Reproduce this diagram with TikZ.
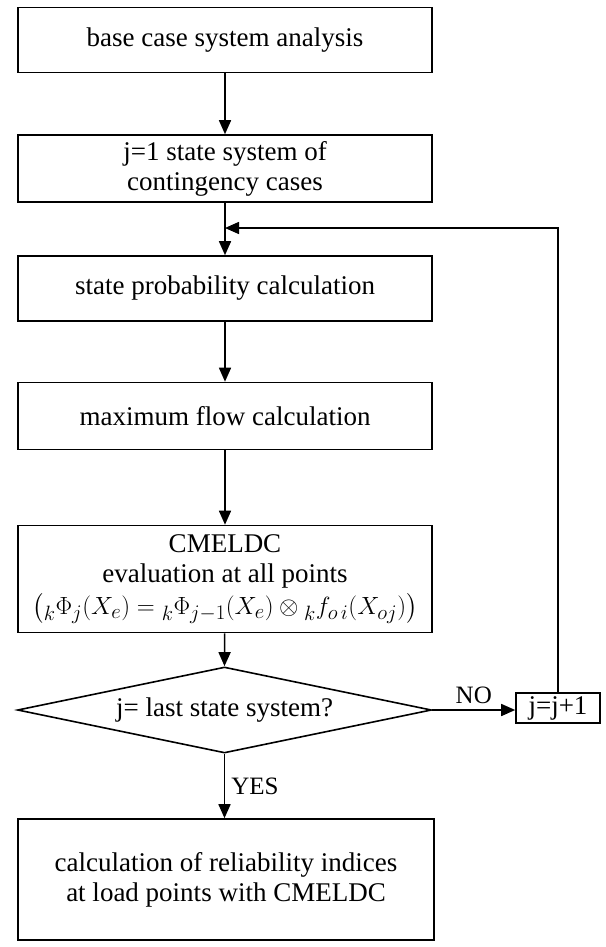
\documentclass[tikz,border=0pt]{standalone}
\usepackage{amsmath}
\usepackage{fontspec}
\setmainfont{Liberation Serif}
\usetikzlibrary{arrows.meta,shapes.geometric}
\begin{document}
\begin{tikzpicture}[x=1pt,y=-1pt,
  box/.style={draw, line width=1.6pt, rectangle, minimum width=414pt, align=center, inner sep=0pt,
              font=\fontsize{27}{30}\selectfont},
  arr/.style={line width=1.6pt, -{Triangle[length=14pt,width=12pt]}},
  lbl/.style={font=\fontsize{25}{28}\selectfont, inner sep=0pt}]
\useasboundingbox (0,0) rectangle (605,947);
\node[box, minimum height=65pt] (b1) at (225,40) {base case system analysis};
\node[box, minimum height=67pt] (b2) at (225,168.5) {j=1 state system of\\contingency cases};
\node[box, minimum height=65pt] (b3) at (225,288.5) {state probability calculation};
\node[box, minimum height=67pt] (b4) at (225,416) {maximum flow calculation};
\node[box, minimum height=107pt] (b5) at (225,579) {CMELDC\\evaluation at all points\\[2pt]
  {\fontsize{28}{30}\selectfont$\bigl({}_{k}\Phi_{j}(X_{e}) = {}_{k}\Phi_{j-1}(X_{e})\otimes{}_{k}f_{o\,i}(X_{oj})\bigr)$}};
\node[draw, line width=1.6pt, diamond, aspect=4.8, minimum width=414pt, minimum height=86pt, inner sep=0pt,
      font=\fontsize{27}{30}\selectfont] (d) at (224.5,710) {j= last state system?};
\node[draw, line width=1.6pt, rectangle, minimum width=84pt, minimum height=30pt, inner sep=0pt,
      font=\fontsize{27}{30}\selectfont] (inc) at (558,708) {j=j+1};
\node[box, minimum width=416pt, minimum height=121pt] (b6) at (226,879.5) {calculation of reliability indices\\at load points with CMELDC};
\coordinate (join) at (225,228);
\draw[arr] (b1) -- (b2);
\draw[arr] (b2) -- (b3);
\draw[arr] (b3) -- (b4);
\draw[arr] (b4) -- (b5);
\draw[arr] (b5) -- (d.north);
\draw[arr] (d.east) -- node[lbl, above=5pt] (no) {NO} (inc.west |- d.east);
\draw[arr] (inc.north) |- (join);
\draw[arr] (d.south) -- node[lbl, right=6pt] (yes) {YES} (b6.north -| d.south);
\end{tikzpicture}
\end{document}
